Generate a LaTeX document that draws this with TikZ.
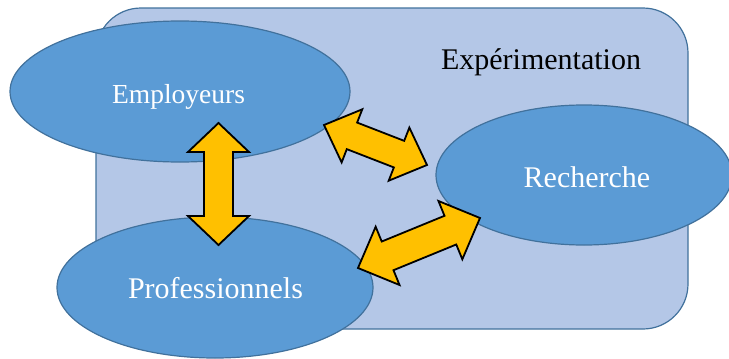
\documentclass[tikz,border=0pt]{standalone}
\usepackage{fontspec}
\setmainfont{Liberation Serif}
\usetikzlibrary{shapes.geometric,calc}
\definecolor{bgfill}{HTML}{B4C7E7}
\definecolor{edgecol}{HTML}{41719C}
\definecolor{ellfill}{HTML}{5B9BD5}
\definecolor{arrfill}{HTML}{FFC000}
\tikzset{
  blob/.style={ellipse, draw=edgecol, line width=1.2pt, fill=ellfill, inner sep=0pt},
  lbl/.style={text=white, anchor=base, inner sep=0pt, font=\fontsize{30}{36}\selectfont},
  arrowstyle/.style={draw=black, line width=1.8pt, fill=arrfill, line join=miter},
  pics/dblarr/.style n args={4}{code={
    \draw[arrowstyle] (0,0) -- (#3,#2/2) -- (#3,#4/2) -- ({#1-#3},#4/2) -- ({#1-#3},#2/2)
      -- (#1,0) -- ({#1-#3},-#2/2) -- ({#1-#3},-#4/2) -- (#3,-#4/2) -- (#3,-#2/2) -- cycle;
  }}
}
\begin{document}
\begin{tikzpicture}[x=1pt,y=-1pt]
\useasboundingbox (0,0) rectangle (729,359);
% background box
\draw[draw=edgecol, line width=1.2pt, fill=bgfill, rounded corners=45pt] (96,8) rectangle (688,329);
\node[anchor=base, inner sep=0pt, font=\fontsize{30}{36}\selectfont] (exp) at (541,69) {Expérimentation};
% ellipses
\node[blob, minimum width=340pt, minimum height=141pt] (emp) at (180,91.5) {};
\node[blob, minimum width=296pt, minimum height=140pt] (rech) at (584,175) {};
\node[blob, minimum width=316pt, minimum height=141pt] (prof) at (215,287.5) {};
\node[lbl, font=\fontsize{27.5}{33}\selectfont] (emplbl) at (178.5,103) {Employeurs};
\node[lbl] (rechlbl) at (587,187) {Recherche};
\node[lbl] (proflbl) at (215.5,298) {Professionnels};
% arrow end points
\coordinate (a1) at (218.5,123);
\coordinate (b1) at (218.5,245);
\coordinate (a2) at (324,125);
\coordinate (b2) at (427,165);
\coordinate (a3) at (358,268);
\coordinate (b3) at (480,218);
\path let \p1=($(b1)-(a1)$), \n1={atan2(\y1,\x1)}, \n2={veclen(\x1,\y1)} in
  (a1) pic[rotate=\n1] {dblarr={\n2}{61}{29}{29}};
\path let \p1=($(b2)-(a2)$), \n1={atan2(\y1,\x1)}, \n2={veclen(\x1,\y1)} in
  (a2) pic[rotate=\n1] {dblarr={\n2}{57}{30}{28.5}};
\path let \p1=($(b3)-(a3)$), \n1={atan2(\y1,\x1)}, \n2={veclen(\x1,\y1)} in
  (a3) pic[rotate=\n1] {dblarr={\n2}{63}{32}{31}};
\end{tikzpicture}
\end{document}
